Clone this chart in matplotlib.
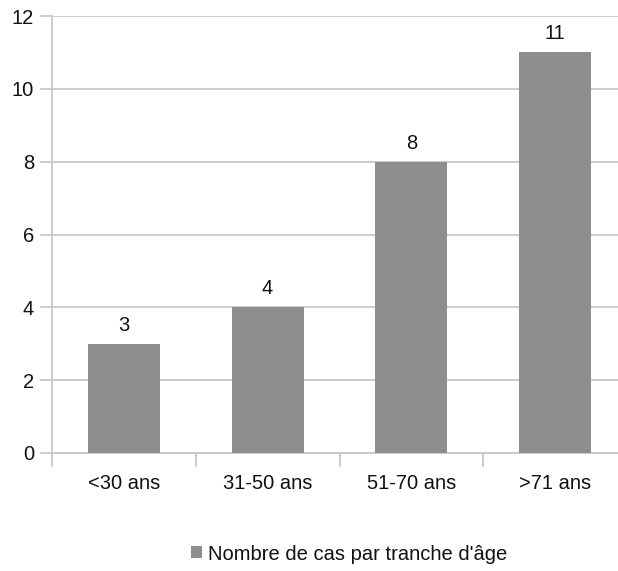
import matplotlib
matplotlib.use("Agg")
import matplotlib.pyplot as plt
from matplotlib.patches import Patch

categories = ['<30 ans', '31-50 ans', '51-70 ans', '>71 ans']
cases = [3, 4, 8, 11]
yticks = [0, 2, 4, 6, 8, 10, 12]
series_name = "Nombre de cas par tranche d'âge"

plt.rcParams['font.family'] = ['Liberation Sans', 'DejaVu Sans']

W, H = 618, 571
fs = 14.5
fig = plt.figure(figsize=(W / 100, H / 100), dpi=100)
# axes run a bit past the right edge, like the original export
ax = fig.add_axes([52 / W, (H - 453) / H, (627 - 52) / W, (453 - 16) / H])

bar_color = '#8e8e8e'
grid_color = '#c8c8c8'
text_color = '#111111'

x = range(len(categories))
bars = ax.bar(x, cases, width=0.5, color=bar_color, zorder=3)
for b, v in zip(bars, cases):
    ax.text(b.get_x() + b.get_width() / 2, v + 0.25, str(v),
            ha='center', va='bottom', fontsize=fs, color=text_color)

ax.set_xlim(-0.5, len(categories) - 0.5)
ax.set_ylim(0, 12)
ax.set_yticks(yticks)
ax.set_yticklabels([str(t) for t in yticks])
ax.yaxis.grid(True, color=grid_color, linewidth=1.3, zorder=0)

# category boundaries carry the x ticks
ax.set_xticks([i - 0.5 for i in range(len(categories) + 1)])
ax.set_xticklabels([])
ax.set_xticks(list(x), minor=True)
ax.set_xticklabels(categories, minor=True)
ax.tick_params(axis='x', which='major', length=10, width=1.3, color=grid_color)
ax.tick_params(axis='x', which='minor', length=0, pad=15, labelsize=fs,
               labelcolor=text_color)
ax.tick_params(axis='y', length=9, width=1.3, color=grid_color, pad=4,
               labelsize=fs, labelcolor=text_color)

for side in ['top', 'right']:
    ax.spines[side].set_visible(False)
for side in ['left', 'bottom']:
    ax.spines[side].set_color(grid_color)
    ax.spines[side].set_linewidth(1.3)

handle = Patch(facecolor=bar_color, edgecolor='none')
fig.legend([handle], [series_name], loc='center', bbox_to_anchor=(349 / W, (H - 554) / H),
           frameon=False, fontsize=fs, handlelength=0.55, handleheight=0.55,
           handletextpad=0.3, labelcolor=text_color)

fig.savefig('out.png', dpi=100)
